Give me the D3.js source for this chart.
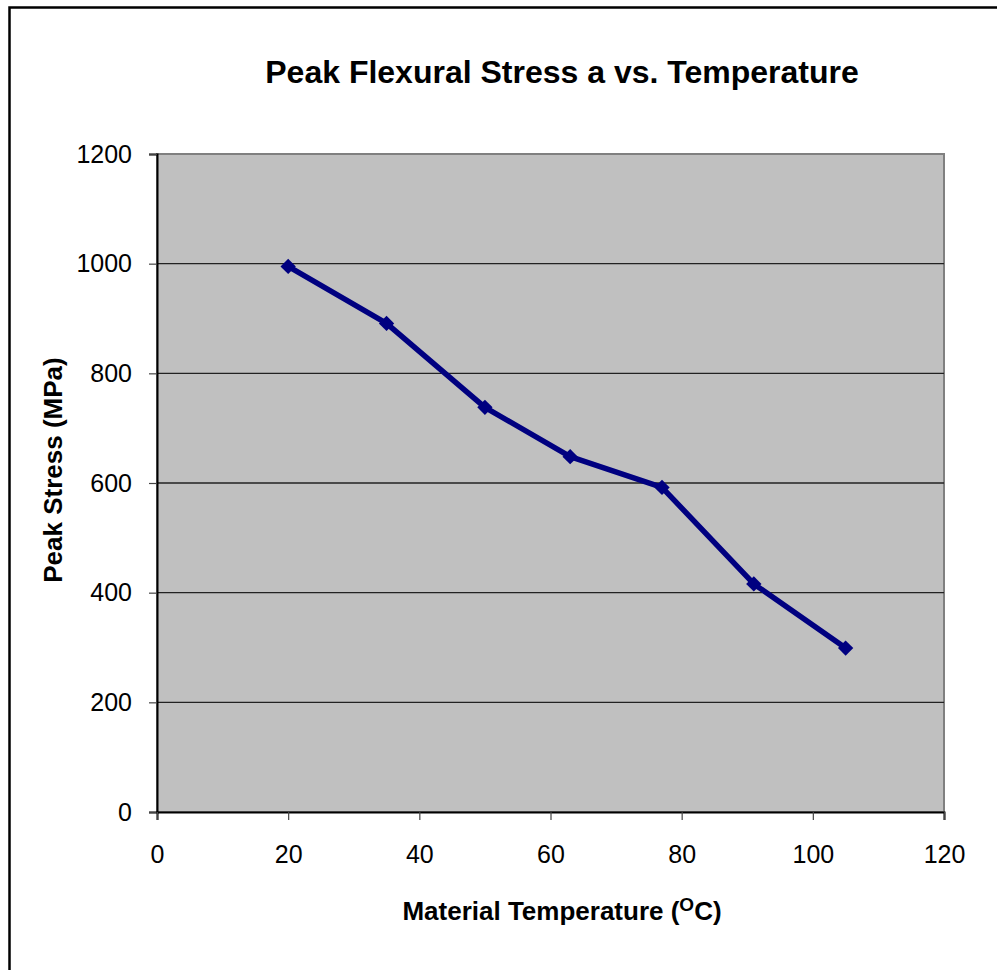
<!DOCTYPE html>
<html><head><meta charset="utf-8">
<script src="https://cdn.jsdelivr.net/npm/d3@7"></script>
<style>body{margin:0;background:#fff;} svg{display:block;font-family:"Liberation Sans",Arial,sans-serif;}</style>
</head><body>
<script>
const temps = [20, 35, 50, 63, 77, 91, 105];
const stress = [995, 891, 738, 648, 592, 416, 299];
const xTicks = [0, 20, 40, 60, 80, 100, 120];
const yTicks = [0, 200, 400, 600, 800, 1000, 1200];

const W = 997, H = 970;
const svg = d3.select("body").append("svg").attr("width", W).attr("height", H);
svg.append("rect").attr("x", 9.5).attr("y", 7.5).attr("width", 1000).attr("height", 1000)
  .attr("fill", "#fff").attr("stroke", "#000").attr("stroke-width", 2.5);

const L = 157, R = 944, T = 154, B = 812;
const x = d3.scaleLinear().domain([0, 120]).range([L, R]);
const y = d3.scaleLinear().domain([0, 1200]).range([B, T]);

svg.append("rect").attr("x", L).attr("y", T).attr("width", R - L).attr("height", B - T)
  .attr("fill", "#c0c0c0").attr("stroke", "#808080").attr("stroke-width", 2);

svg.append("g").selectAll("line").data(yTicks.slice(1, -1)).join("line")
  .attr("x1", L).attr("x2", R).attr("y1", d => y(d)).attr("y2", d => y(d))
  .attr("stroke", "#222").attr("stroke-width", 1.3);

const fmt = d3.format("d");
const yAxis = svg.append("g").attr("transform", `translate(${L},0)`)
  .call(d3.axisLeft(y).tickValues(yTicks).tickFormat(fmt).tickSize(8).tickPadding(17));
const xAxis = svg.append("g").attr("transform", `translate(0,${B})`)
  .call(d3.axisBottom(x).tickValues(xTicks).tickFormat(fmt).tickSize(8).tickPadding(25));
[yAxis, xAxis].forEach(a => {
  a.attr("font-size", null).attr("font-family", null);
  a.select(".domain").attr("stroke", "#000").attr("stroke-width", 2);
  a.selectAll(".tick line").attr("stroke", "#444").attr("stroke-width", 1.2);
  a.selectAll(".tick text").style("font-size", "25px").attr("fill", "#000")
    .style("font-family", "'Liberation Sans',Arial,sans-serif");
});

const pts = temps.map((t, i) => [t, stress[i]]);
svg.append("path").datum(pts)
  .attr("d", d3.line().x(d => x(d[0])).y(d => y(d[1])))
  .attr("fill", "none").attr("stroke", "#000080").attr("stroke-width", 5.5).attr("stroke-linejoin", "round");
svg.append("g").selectAll("path").data(pts).join("path")
  .attr("transform", d => `translate(${x(d[0])},${y(d[1])})`)
  .attr("d", d3.symbol(d3.symbolDiamond2, 150)())
  .attr("fill", "#000080");

svg.append("text").attr("x", 562).attr("y", 83).attr("text-anchor", "middle")
  .style("font-size", "32px").attr("font-weight", "bold").text("Peak Flexural Stress a vs. Temperature");

svg.append("text").attr("transform", `translate(62,470) rotate(-90)`)
  .attr("text-anchor", "middle").style("font-size", "26px").attr("font-weight", "bold").text("Peak Stress (MPa)");

const xt = svg.append("text").attr("x", 562).attr("y", 920).attr("text-anchor", "middle")
  .style("font-size", "26px").attr("font-weight", "bold");
xt.append("tspan").text("Material Temperature (");
xt.append("tspan").style("font-size", "19px").attr("dy", -9).text("O");
xt.append("tspan").attr("dy", 9).text("C)");
</script>
</body></html>
